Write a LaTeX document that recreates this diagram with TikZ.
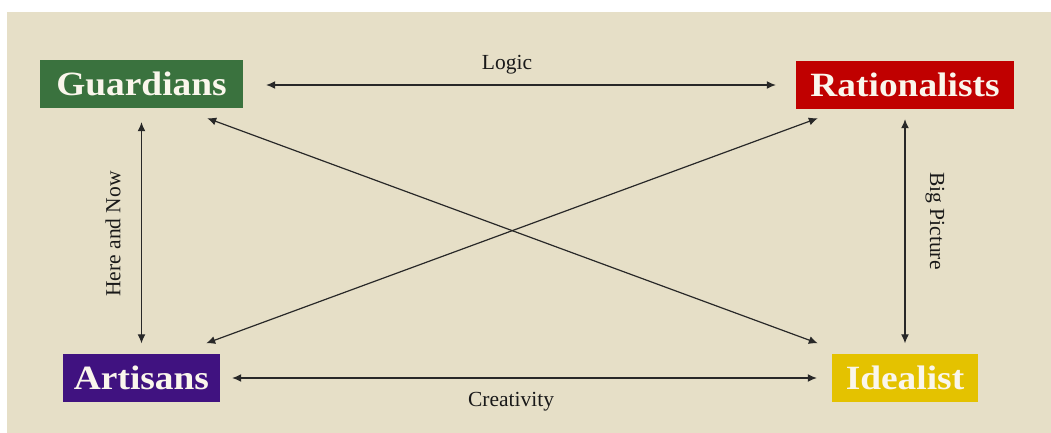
\documentclass[tikz,border=0pt]{standalone}
\usepackage{fontspec}
\setmainfont{Liberation Serif}
\newfontfamily\boxfont{Liberation Serif}[FakeStretch=1.1]
\usetikzlibrary{arrows.meta,calc}
\definecolor{bgbeige}{RGB}{230,223,199}
\definecolor{guardgreen}{RGB}{58,114,62}
\definecolor{ratred}{RGB}{192,0,0}
\definecolor{artpurple}{RGB}{64,18,128}
\definecolor{idyellow}{RGB}{228,194,0}
\definecolor{boxtext}{RGB}{250,246,236}
\definecolor{linegray}{RGB}{40,40,40}
\begin{document}
\begin{tikzpicture}[x=1pt,y=-1pt,
  tbox/.style={rectangle, inner sep=0pt, minimum height=48pt, text=boxtext,
    font=\boxfont\bfseries\fontsize{34}{36}\selectfont},
  conn/.style={draw=linegray, line width=1.2pt, {Latex[length=9pt,width=8pt]}-{Latex[length=9pt,width=8pt]}},
  lbl/.style={text=black!90, font=\fontsize{21.5}{24}\selectfont, inner sep=0pt}]
\useasboundingbox (0,0) rectangle (1051,433);
\fill[bgbeige] (7,12) rectangle (1051,433);
\node[tbox, fill=guardgreen, minimum width=203pt] (g) at (141.5,84) {Guardians};
\node[tbox, fill=ratred, minimum width=218pt] (r) at (905,85) {Rationalists};
\node[tbox, fill=artpurple, minimum width=157pt] (a) at (141.5,377.5) {Artisans};
\node[tbox, fill=idyellow, minimum width=146pt] (i) at (905,377.5) {Idealist};
% connectors
\draw[conn, shorten <=23pt, shorten >=20pt] (g.east |- 0,85) -- (r.west);
\draw[conn, shorten <=14pt, shorten >=10pt] (g.south) -- (g.south |- a.north);
\draw[conn, shorten <=10pt, shorten >=10pt] (r.south) -- (r.south |- i.north);
\draw[conn, shorten <=12pt, shorten >=15pt] (a.east |- 0,378) -- (i.west |- 0,378);
\draw[conn] ($(g.south east)+(-36,10)$) -- ($(i.north west)+(-14,-10)$);
\draw[conn] ($(r.south west)+(22,9)$) -- ($(a.north east)+(-14,-10)$);
% labels
\node[lbl] (llogic) at (507,65) {Logic};
\node[lbl] (lcre) at (511,402) {Creativity};
\node[lbl, rotate=90] (lhere) at (113,234) {Here and Now};
\node[lbl, rotate=-90] (lbig) at (935,221) {Big Picture};
\end{tikzpicture}
\end{document}
